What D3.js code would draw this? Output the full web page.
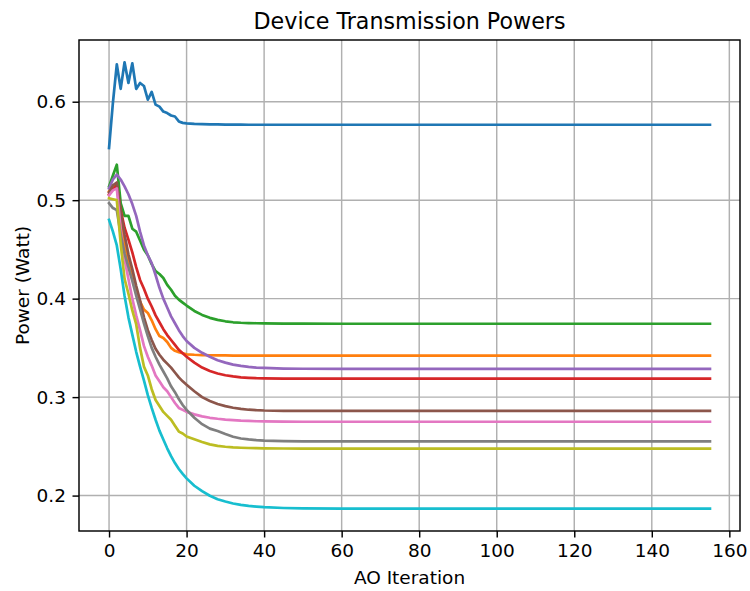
<!DOCTYPE html>
<html>
<head>
<meta charset="utf-8">
<script src="https://cdn.jsdelivr.net/npm/d3@7"></script>
<style>
  html, body { margin: 0; padding: 0; background: #fff; }
  svg { display: block; font-family: "DejaVu Sans", sans-serif; }
</style>
</head>
<body>
<svg id="chart" width="750" height="591"></svg>
<script>
// AO iterations at which the device powers are recorded
const iterations = [0,1,2,3,4,5,6,7,8,9,10,11,12,13,14,15,16,17,18,19,20,
  22,24,26,28,30,32,34,36,38,40,45,50,60,80,110,155];

// Transmission power (Watt) of each device per iteration
const device0 = [0.553,0.599,0.638,0.613,0.640,0.619,0.639,0.613,0.619,0.616,0.602,0.610,0.597,0.595,0.590,0.5885,0.586,0.585,0.580,0.5785,0.578,
  0.5775,0.5772,0.577,0.5769,0.5768,0.5767,0.5767,0.5766,0.5766,0.5766,0.5766,0.5766,0.5766,0.5766,0.5766,0.5766];
const device1 = [0.509,0.514,0.517,0.478,0.455,0.437,0.421,0.408,0.397,0.389,0.3855,0.378,0.369,0.362,0.360,0.356,0.350,0.347,0.3455,0.3445,0.3435,
  0.343,0.3427,0.3425,0.3424,0.3423,0.3422,0.3422,0.3422,0.3422,0.3422,0.3422,0.3422,0.3422,0.3422,0.3422,0.3422];
const device2 = [0.514,0.525,0.536,0.497,0.484,0.484,0.471,0.468,0.459,0.450,0.444,0.435,0.428,0.425,0.421,0.414,0.409,0.403,0.399,0.396,0.393,
  0.3875,0.3835,0.3805,0.3785,0.377,0.376,0.3755,0.3752,0.375,0.3749,0.3747,0.3746,0.3745,0.3745,0.3745,0.3745];
const device3 = [0.506,0.511,0.515,0.490,0.472,0.460,0.447,0.432,0.419,0.410,0.400,0.392,0.383,0.376,0.369,0.363,0.358,0.353,0.348,0.3445,0.341,
  0.335,0.330,0.3265,0.324,0.3222,0.321,0.3201,0.3196,0.3192,0.319,0.3188,0.3187,0.3187,0.3187,0.3187,0.3187];
const device4 = [0.512,0.521,0.526,0.521,0.514,0.506,0.496,0.484,0.468,0.454,0.444,0.436,0.424,0.411,0.400,0.391,0.382,0.375,0.368,0.362,0.357,
  0.350,0.345,0.341,0.3375,0.335,0.333,0.3317,0.3307,0.330,0.3296,0.329,0.3288,0.3287,0.3287,0.3287,0.3287];
const device5 = [0.508,0.515,0.518,0.488,0.465,0.445,0.430,0.413,0.398,0.381,0.368,0.358,0.349,0.343,0.338,0.334,0.330,0.325,0.320,0.316,0.3125,
  0.306,0.300,0.296,0.293,0.2908,0.2892,0.288,0.2872,0.2867,0.2864,0.2861,0.286,0.286,0.286,0.286,0.286];
const device6 = [0.505,0.510,0.512,0.470,0.440,0.420,0.400,0.383,0.368,0.352,0.341,0.332,0.322,0.316,0.310,0.306,0.300,0.294,0.289,0.287,0.285,
  0.2825,0.2805,0.279,0.278,0.2772,0.2766,0.2761,0.2758,0.2755,0.2753,0.2751,0.275,0.275,0.275,0.275,0.275];
const device7 = [0.497,0.492,0.490,0.465,0.446,0.432,0.418,0.403,0.389,0.375,0.362,0.350,0.341,0.333,0.326,0.319,0.311,0.305,0.298,0.292,0.287,
  0.279,0.2725,0.268,0.2655,0.2625,0.2598,0.258,0.257,0.2563,0.2558,0.2553,0.2551,0.255,0.255,0.255,0.255];
const device8 = [0.502,0.501,0.500,0.456,0.420,0.405,0.388,0.374,0.350,0.331,0.322,0.308,0.297,0.291,0.285,0.281,0.277,0.271,0.265,0.263,0.260,
  0.2573,0.2545,0.252,0.2505,0.2496,0.249,0.2486,0.2483,0.2481,0.2479,0.2478,0.2477,0.2477,0.2477,0.2477,0.2477];
const device9 = [0.480,0.468,0.454,0.430,0.403,0.381,0.3635,0.346,0.331,0.317,0.302,0.289,0.277,0.266,0.257,0.248,0.240,0.233,0.227,0.222,0.2175,
  0.210,0.2045,0.1998,0.1963,0.194,0.192,0.1905,0.1895,0.1888,0.1882,0.1874,0.187,0.1868,0.1867,0.1867,0.1867];

const xTicks = [0,20,40,60,80,100,120,140,160];
const yTicks = [0.2,0.3,0.4,0.5,0.6];
const colors = ["#1f77b4","#ff7f0e","#2ca02c","#d62728","#9467bd","#8c564b","#e377c2","#7f7f7f","#bcbd22","#17becf"];

const series = [device0,device1,device2,device3,device4,device5,device6,device7,device8,device9];

const svg = d3.select("#chart");
const m = { left: 79, right: 740, top: 40, bottom: 531 };
const tickFont = "18.5px", titleFont = "22.2px";

// axis limits with a 5% margin around the data
const xMin = d3.min(iterations), xMax = d3.max(iterations);
const xPad = (xMax - xMin) * 0.05;
const allVals = series.flat();
const yMin = d3.min(allVals), yMax = d3.max(allVals);
const yPad = (yMax - yMin) * 0.05;

const x = d3.scaleLinear().domain([xMin - xPad, xMax + xPad]).range([m.left, m.right]);
const y = d3.scaleLinear().domain([yMin - yPad, yMax + yPad]).range([m.bottom, m.top]);

// grid
const grid = svg.append("g");
grid.selectAll("line.gx").data(xTicks).join("line")
  .attr("x1", d => x(d)).attr("x2", d => x(d))
  .attr("y1", m.top).attr("y2", m.bottom)
  .attr("stroke", "#b0b0b0").attr("stroke-width", 1.45);
grid.selectAll("line.gy").data(yTicks).join("line")
  .attr("y1", d => y(d)).attr("y2", d => y(d))
  .attr("x1", m.left).attr("x2", m.right)
  .attr("stroke", "#b0b0b0").attr("stroke-width", 1.45);

// lines
svg.append("clipPath").attr("id", "plotclip").append("rect")
  .attr("x", m.left).attr("y", m.top).attr("width", m.right - m.left).attr("height", m.bottom - m.top);
const line = d3.line().x((d, i) => x(iterations[i])).y(d => y(d));
svg.append("g").attr("clip-path", "url(#plotclip)")
  .selectAll("path").data(series).join("path")
  .attr("d", d => line(d))
  .attr("fill", "none")
  .attr("stroke", (d, i) => colors[i])
  .attr("stroke-width", 2.7)
  .attr("stroke-linejoin", "round")
  .attr("stroke-linecap", "square");

// axes
const xAxis = d3.axisBottom(x).tickValues(xTicks).tickFormat(d3.format("d")).tickSize(6.5).tickPadding(6.5);
const yAxis = d3.axisLeft(y).tickValues(yTicks).tickFormat(d3.format(".1f")).tickSize(6.5).tickPadding(6.5);

const gx = svg.append("g").attr("transform", `translate(0,${m.bottom})`).call(xAxis);
const gy = svg.append("g").attr("transform", `translate(${m.left},0)`).call(yAxis);
[gx, gy].forEach(g => {
  g.select(".domain").remove();
  g.selectAll(".tick line").attr("stroke", "#000").attr("stroke-width", 1.45);
  g.selectAll(".tick text").attr("fill", "#000").style("font-size", tickFont)
    .style("font-family", "DejaVu Sans, sans-serif");
});

// frame
svg.append("rect")
  .attr("x", m.left).attr("y", m.top)
  .attr("width", m.right - m.left).attr("height", m.bottom - m.top)
  .attr("fill", "none").attr("stroke", "#000").attr("stroke-width", 1.45);

// titles
svg.append("text").attr("x", (m.left + m.right) / 2).attr("y", 28.9)
  .attr("text-anchor", "middle").style("font-size", titleFont).text("Device Transmission Powers");
svg.append("text").attr("x", (m.left + m.right) / 2).attr("y", 584)
  .attr("text-anchor", "middle").style("font-size", tickFont).text("AO Iteration");
svg.append("text").attr("transform", `translate(29,${(m.top + m.bottom) / 2}) rotate(-90)`)
  .attr("text-anchor", "middle").style("font-size", tickFont).text("Power (Watt)");
</script>
</body>
</html>
